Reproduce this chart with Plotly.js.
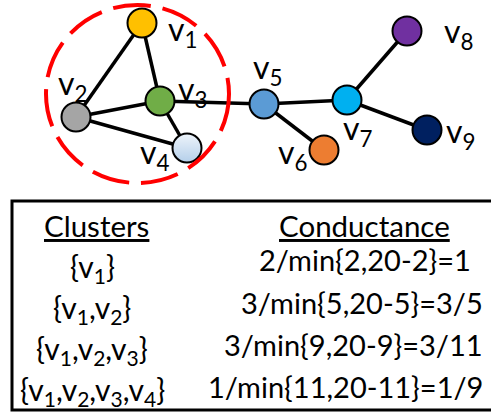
<!DOCTYPE html>
<html>
<head>
<meta charset="utf-8">
<script src="https://cdn.plot.ly/plotly-3.0.1.min.js"></script>
<style>html,body{margin:0;padding:0;background:#fff;}#chart{width:491px;height:420px;}</style>
</head>
<body>
<div id="chart"></div>
<script>
// ---- graph data ----
const nodeNames = ['1', '2', '3', '4', '5', '6', '7', '8', '9'];
const nodeX = [142, 76, 160, 187, 264, 324, 347, 407, 427];
const nodeY = [23, 117, 101, 148, 104, 150, 100, 31, 130];
const nodeColors = ['#FFC000', '#A5A5A5', '#70AD47', '#EEF4FB', '#5B9BD5', '#ED7D31', '#00B0F0', '#7030A0', '#002060'];
const edgeFrom = [0, 0, 1, 1, 2, 2, 4, 4, 6, 6];
const edgeTo   = [1, 2, 2, 3, 3, 4, 5, 6, 7, 8];

// ---- table data ----
const clusterMembers = [[1], [1, 2], [1, 2, 3], [1, 2, 3, 4]];
const cutEdges = [2, 3, 3, 1];
const clusterVolume = [2, 5, 9, 11];
const totalVolume = 20;
const conductanceValue = ['1', '3/5', '3/11', '1/9'];

// ---- label placement (layout) ----
const labelX = [166, 56, 176, 138, 251, 276, 341, 442, 444];
const labelY = [31, 85, 91, 154, 69, 154, 130, 33, 133];
const clusterRowY = [268, 309, 350, 391];
const formulaRowY = [259, 302, 344, 386];
const formulaRight = [473, 485, 485, 485];

const FONT = 'Lato, "Open Sans", sans-serif';

// edges
const ex = [], ey = [];
for (let i = 0; i < edgeFrom.length; i++) {
  ex.push(nodeX[edgeFrom[i]], nodeX[edgeTo[i]], null);
  ey.push(nodeY[edgeFrom[i]], nodeY[edgeTo[i]], null);
}
const edgeTrace = {
  x: ex, y: ey, mode: 'lines', type: 'scatter',
  line: {color: '#000000', width: 3.5}, hoverinfo: 'skip', showlegend: false
};
const nodeTrace = {
  x: nodeX, y: nodeY, mode: 'markers', type: 'scatter', showlegend: false,
  marker: {
    size: 29, color: nodeColors,
    line: {color: '#000000', width: 2},
    gradient: {type: nodeNames.map((n, i) => i === 3 ? 'vertical' : 'none'), color: '#B4CFEA'}
  },
  hoverinfo: 'skip'
};

const annotations = [];
nodeNames.forEach((n, i) => {
  annotations.push({
    x: labelX[i], y: labelY[i], xref: 'x', yref: 'y',
    text: 'v<sub>' + n + '</sub>', showarrow: false,
    xanchor: 'left', yanchor: 'middle',
    font: {family: FONT, size: 32, color: '#000000'}
  });
});
annotations.push({
  x: 96, y: 225, xref: 'x', yref: 'y', text: '<u>Clusters</u>', showarrow: false,
  xanchor: 'center', yanchor: 'middle', font: {family: FONT, size: 29.5, color: '#000'}
});
annotations.push({
  x: 364, y: 225, xref: 'x', yref: 'y', text: '<u>Conductance</u>', showarrow: false,
  xanchor: 'center', yanchor: 'middle', font: {family: FONT, size: 29.5, color: '#000'}
});
clusterMembers.forEach((m, i) => {
  annotations.push({
    x: 92, y: clusterRowY[i], xref: 'x', yref: 'y',
    text: '{' + m.map(k => 'v<sub>' + k + '</sub>').join(',') + '}',
    showarrow: false, xanchor: 'center', yanchor: 'middle',
    font: {family: FONT, size: 30, color: '#000'}
  });
  annotations.push({
    x: formulaRight[i], y: formulaRowY[i], xref: 'x', yref: 'y',
    text: cutEdges[i] + '/min{' + clusterVolume[i] + ',' + totalVolume + '-' + clusterVolume[i] + '}=' + conductanceValue[i],
    showarrow: false, xanchor: 'right', yanchor: 'middle',
    font: {family: FONT, size: 29, color: '#000'}
  });
});

const layout = {
  width: 491, height: 420,
  margin: {l: 0, r: 0, t: 0, b: 0, pad: 0},
  paper_bgcolor: '#ffffff', plot_bgcolor: '#ffffff',
  xaxis: {range: [0, 491], visible: false, fixedrange: true},
  yaxis: {range: [420, 0], visible: false, fixedrange: true},
  showlegend: false,
  shapes: [
    {type: 'circle', xref: 'x', yref: 'y', x0: 46, x1: 229, y0: 5, y1: 183,
     line: {color: '#FF0000', width: 4, dash: '38px,12px'}, layer: 'above'},
    {type: 'rect', xref: 'x', yref: 'y', x0: 12, x1: 496, y0: 201, y1: 410,
     line: {color: '#000000', width: 3}, layer: 'above'}
  ],
  annotations: annotations
};

Plotly.newPlot('chart', [edgeTrace, nodeTrace], layout, {staticPlot: true, displayModeBar: false});
</script>
</body>
</html>
